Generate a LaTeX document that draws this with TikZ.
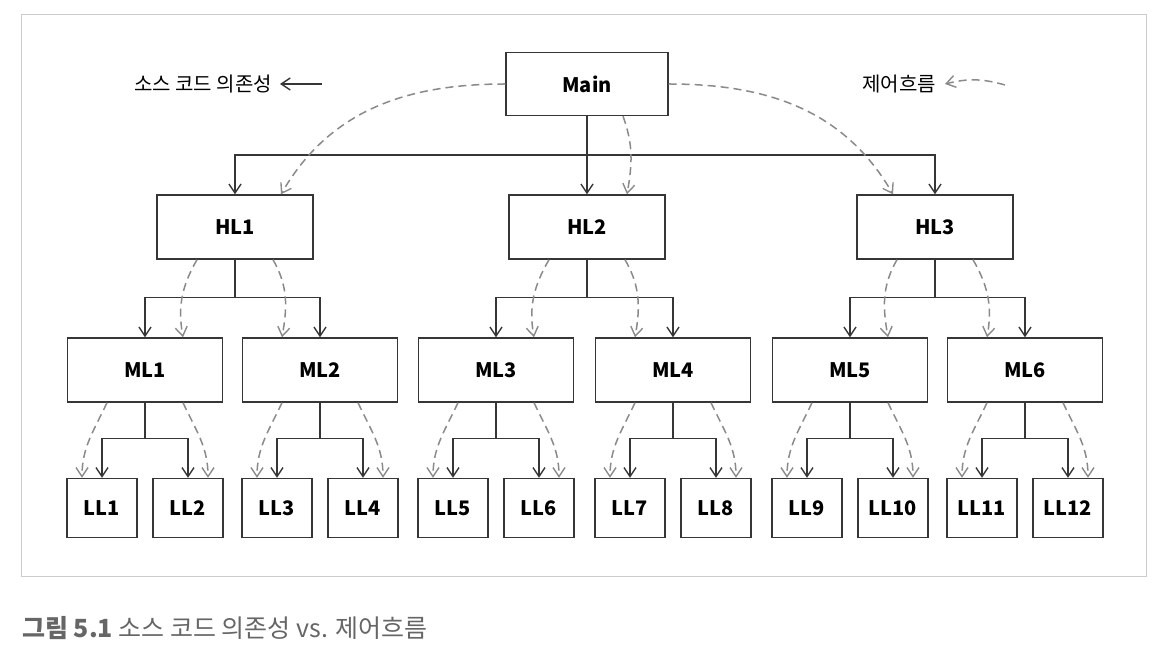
\documentclass[tikz,border=0pt]{standalone}
\usepackage{fontspec}
\setmainfont{Noto Sans CJK KR}
\usetikzlibrary{arrows.meta}
\definecolor{linegray}{HTML}{363636}
\definecolor{flowgray}{HTML}{8A8A8A}
\definecolor{framegray}{HTML}{CCCCCC}
\definecolor{captiongray}{HTML}{666666}
\begin{document}
\begin{tikzpicture}[x=1pt,y=1pt,
    module/.style ={rectangle, draw=linegray, line width=1.4pt, fill=white, inner sep=0pt, font=\bfseries\fontsize{20}{22}\selectfont},
    dependency/.style ={draw=linegray, line width=1.4pt, -{Straight Barb[length=9pt,width=12pt,line width=1.4pt]}},
    control/.style ={draw=flowgray, line width=1.5pt, dash pattern=on 8pt off 5pt, -{Straight Barb[length=9pt,width=12pt,line width=1.4pt]}},
    legend/.style ={inner sep=0pt, font=\fontsize{20}{24}\selectfont}]
   \useasboundingbox (0,0) rectangle (1164,661);
   \draw[framegray, line width=1pt] (21,84) rectangle (1146,646);
   \node[module, minimum width=162pt, minimum height=63pt] (Main) at (587,577) {Main};
   \foreach \i/\x in {1/235,2/587,3/935}
     \node[module, minimum width=156pt, minimum height=64pt] (HL\i) at (\x,434) {HL\i};
   \foreach \i/\x in {1/145,2/320,3/496,4/673,5/850,6/1025}
     \node[module, minimum width=155pt, minimum height=64pt] (ML\i) at (\x,291) {ML\i};
   \foreach \m in {1,...,6} {
     \pgfmathtruncatemacro\a{2*\m-1}
     \pgfmathtruncatemacro\b{2*\m}
     \node[module, minimum width=70pt, minimum height=59pt] (LL\a) at ([shift={(-43,-138)}]ML\m) {LL\a};
     \node[module, minimum width=70pt, minimum height=59pt] (LL\b) at ([shift={(43,-138)}]ML\m) {LL\b};
   }
   \coordinate (top) at (587,506);
   \draw[dependency] (Main) -- (HL2);
   \draw[dependency] (top) -| (HL1);
   \draw[dependency] (top) -| (HL3);
   \draw[control] (Main.west) to[out=180,in=60] ([xshift=46pt]HL1.north);
   \draw[control] ([xshift=36pt]Main.south) to[out=-70,in=80] ([xshift=40pt]HL2.north);
   \draw[control] (Main.east) to[out=0,in=120] ([xshift=-42pt]HL3.north);
   \foreach \p/\a/\b in {1/1/2,2/3/4,3/5/6} {
     \coordinate (hb\p) at ([yshift=-38pt]HL\p.south);
     \draw[linegray, line width=1.4pt] (HL\p) -- (hb\p);
     \draw[dependency] (hb\p) -| (ML\a);
     \draw[dependency] (hb\p) -| (ML\b);
     \draw[control] ([xshift=-38pt]HL\p.south) to[out=-120,in=100] ([xshift=38pt]ML\a.north);
     \draw[control] ([xshift=38pt]HL\p.south) to[out=-60,in=80] ([xshift=-38pt]ML\b.north);
   }
   \foreach \m in {1,...,6} {
     \pgfmathtruncatemacro\a{2*\m-1}
     \pgfmathtruncatemacro\b{2*\m}
     \coordinate (mb\m) at ([yshift=-36pt]ML\m.south);
     \draw[linegray, line width=1.4pt] (ML\m) -- (mb\m);
     \draw[dependency] (mb\m) -| (LL\a);
     \draw[dependency] (mb\m) -| (LL\b);
     \draw[control] ([xshift=-38pt]ML\m.south) to[out=-115,in=90] ([xshift=-20pt]LL\a.north);
     \draw[control] ([xshift=38pt]ML\m.south) to[out=-65,in=90] ([xshift=20pt]LL\b.north);
   }
   \node[legend, anchor=east] (deplabel) at (272,577) {소스 코드 의존성};
   \coordinate (depstart) at (322,577);
   \draw[dependency, line width=1.2pt] (depstart) -- ([xshift=8pt]deplabel.east);
   \node[legend, anchor=west] (flowlabel) at (862,577) {제어흐름};
   \coordinate (flowstart) at (1005,576);
   \draw[control] (flowstart) to[bend right=15] ([xshift=9pt]flowlabel.east);
   \node[anchor=west, inner sep=0pt, text=captiongray, font=\fontsize{25}{28}\selectfont] (caption) at (22,33) {\textbf{그림 5.1} 소스 코드 의존성 vs. 제어흐름};
\end{tikzpicture}
\end{document}
